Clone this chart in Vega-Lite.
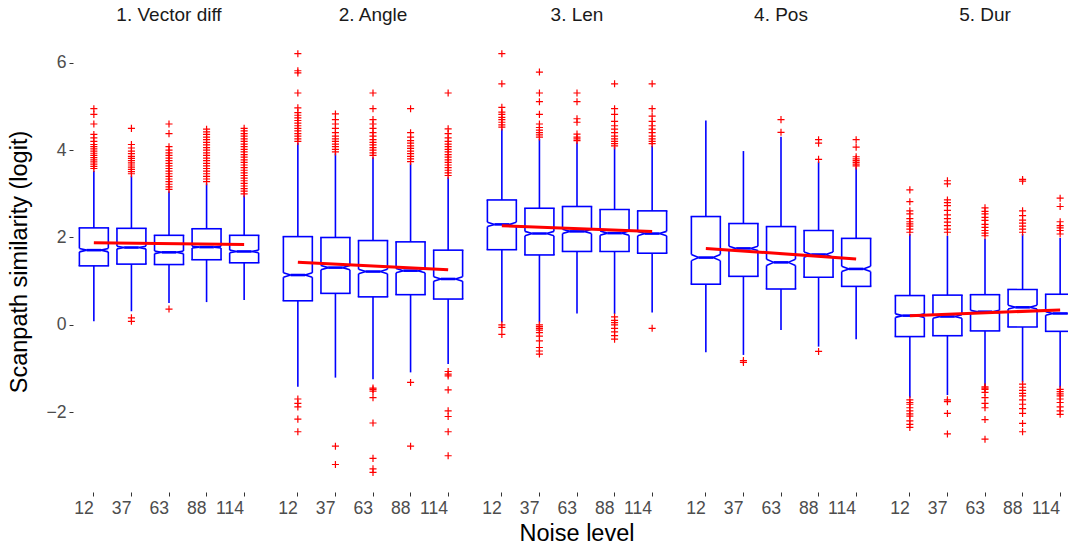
{
  "$schema": "https://vega.github.io/schema/vega-lite/v6.json",
  "padding": {"left": 7, "top": 6, "right": 0, "bottom": 0},
  "background": "white",
  "data": {"values": [
    {"panel":"1. Vector diff","noise":12,"kind":"box","q1":1.35,"med":1.71,"q3":2.22,"nlo":1.67,"nhi":1.75,"wlo":0.08,"whi":3.53},
    {"panel":"1. Vector diff","noise":37,"kind":"box","q1":1.39,"med":1.77,"q3":2.21,"nlo":1.74,"nhi":1.80,"wlo":0.31,"whi":3.42},
    {"panel":"1. Vector diff","noise":63,"kind":"box","q1":1.38,"med":1.66,"q3":2.05,"nlo":1.63,"nhi":1.69,"wlo":0.50,"whi":3.06},
    {"panel":"1. Vector diff","noise":88,"kind":"box","q1":1.49,"med":1.78,"q3":2.20,"nlo":1.76,"nhi":1.80,"wlo":0.52,"whi":3.24},
    {"panel":"1. Vector diff","noise":114,"kind":"box","q1":1.42,"med":1.68,"q3":2.05,"nlo":1.65,"nhi":1.71,"wlo":0.57,"whi":2.97},
    {"panel":"2. Angle","noise":12,"kind":"box","q1":0.55,"med":1.14,"q3":2.02,"nlo":1.09,"nhi":1.19,"wlo":-1.42,"whi":4.17},
    {"panel":"2. Angle","noise":37,"kind":"box","q1":0.72,"med":1.31,"q3":2.00,"nlo":1.26,"nhi":1.36,"wlo":-1.21,"whi":3.93},
    {"panel":"2. Angle","noise":63,"kind":"box","q1":0.64,"med":1.22,"q3":1.93,"nlo":1.17,"nhi":1.27,"wlo":-1.25,"whi":3.84},
    {"panel":"2. Angle","noise":88,"kind":"box","q1":0.69,"med":1.24,"q3":1.90,"nlo":1.19,"nhi":1.29,"wlo":-1.09,"whi":3.70},
    {"panel":"2. Angle","noise":114,"kind":"box","q1":0.59,"med":1.05,"q3":1.71,"nlo":1.00,"nhi":1.10,"wlo":-0.90,"whi":3.38},
    {"panel":"3. Len","noise":12,"kind":"box","q1":1.72,"med":2.30,"q3":2.86,"nlo":2.25,"nhi":2.35,"wlo":0.05,"whi":4.49},
    {"panel":"3. Len","noise":37,"kind":"box","q1":1.60,"med":2.09,"q3":2.67,"nlo":2.04,"nhi":2.14,"wlo":0.05,"whi":4.26},
    {"panel":"3. Len","noise":63,"kind":"box","q1":1.68,"med":2.14,"q3":2.71,"nlo":2.09,"nhi":2.19,"wlo":0.26,"whi":4.18},
    {"panel":"3. Len","noise":88,"kind":"box","q1":1.68,"med":2.10,"q3":2.64,"nlo":2.05,"nhi":2.15,"wlo":0.25,"whi":4.07},
    {"panel":"3. Len","noise":114,"kind":"box","q1":1.64,"med":2.09,"q3":2.61,"nlo":2.04,"nhi":2.14,"wlo":0.28,"whi":4.11},
    {"panel":"4. Pos","noise":12,"kind":"box","q1":0.93,"med":1.54,"q3":2.48,"nlo":1.47,"nhi":1.61,"wlo":-0.63,"whi":4.68},
    {"panel":"4. Pos","noise":37,"kind":"box","q1":1.11,"med":1.75,"q3":2.32,"nlo":1.70,"nhi":1.80,"wlo":-0.69,"whi":3.98},
    {"panel":"4. Pos","noise":63,"kind":"box","q1":0.82,"med":1.43,"q3":2.25,"nlo":1.36,"nhi":1.50,"wlo":-0.12,"whi":4.31},
    {"panel":"4. Pos","noise":88,"kind":"box","q1":1.09,"med":1.61,"q3":2.16,"nlo":1.55,"nhi":1.67,"wlo":-0.50,"whi":3.74},
    {"panel":"4. Pos","noise":114,"kind":"box","q1":0.88,"med":1.28,"q3":1.98,"nlo":1.22,"nhi":1.34,"wlo":-0.33,"whi":3.61},
    {"panel":"5. Dur","noise":12,"kind":"box","q1":-0.27,"med":0.21,"q3":0.67,"nlo":0.17,"nhi":0.25,"wlo":-1.67,"whi":2.08},
    {"panel":"5. Dur","noise":37,"kind":"box","q1":-0.25,"med":0.19,"q3":0.68,"nlo":0.15,"nhi":0.23,"wlo":-1.61,"whi":2.04},
    {"panel":"5. Dur","noise":63,"kind":"box","q1":-0.14,"med":0.30,"q3":0.69,"nlo":0.27,"nhi":0.33,"wlo":-1.40,"whi":1.97},
    {"panel":"5. Dur","noise":88,"kind":"box","q1":-0.05,"med":0.40,"q3":0.81,"nlo":0.36,"nhi":0.45,"wlo":-1.32,"whi":2.08},
    {"panel":"5. Dur","noise":114,"kind":"box","q1":-0.15,"med":0.26,"q3":0.70,"nlo":0.22,"nhi":0.30,"wlo":-1.44,"whi":1.99},

    {"panel":"1. Vector diff","noise":12,"kind":"fit","value":1.88},
    {"panel":"1. Vector diff","noise":114,"kind":"fit","value":1.84},
    {"panel":"2. Angle","noise":12,"kind":"fit","value":1.43},
    {"panel":"2. Angle","noise":114,"kind":"fit","value":1.26},
    {"panel":"3. Len","noise":12,"kind":"fit","value":2.27},
    {"panel":"3. Len","noise":114,"kind":"fit","value":2.14},
    {"panel":"4. Pos","noise":12,"kind":"fit","value":1.75},
    {"panel":"4. Pos","noise":114,"kind":"fit","value":1.51},
    {"panel":"5. Dur","noise":12,"kind":"fit","value":0.21},
    {"panel":"5. Dur","noise":114,"kind":"fit","value":0.34},

    {"panel":"1. Vector diff","noise":12,"kind":"out","value":3.58},
    {"panel":"1. Vector diff","noise":12,"kind":"out","value":3.63},
    {"panel":"1. Vector diff","noise":12,"kind":"out","value":3.68},
    {"panel":"1. Vector diff","noise":12,"kind":"out","value":3.73},
    {"panel":"1. Vector diff","noise":12,"kind":"out","value":3.78},
    {"panel":"1. Vector diff","noise":12,"kind":"out","value":3.83},
    {"panel":"1. Vector diff","noise":12,"kind":"out","value":3.88},
    {"panel":"1. Vector diff","noise":12,"kind":"out","value":3.93},
    {"panel":"1. Vector diff","noise":12,"kind":"out","value":3.98},
    {"panel":"1. Vector diff","noise":12,"kind":"out","value":4.03},
    {"panel":"1. Vector diff","noise":12,"kind":"out","value":4.08},
    {"panel":"1. Vector diff","noise":12,"kind":"out","value":4.13},
    {"panel":"1. Vector diff","noise":12,"kind":"out","value":4.20},
    {"panel":"1. Vector diff","noise":12,"kind":"out","value":4.28},
    {"panel":"1. Vector diff","noise":12,"kind":"out","value":4.36},
    {"panel":"1. Vector diff","noise":12,"kind":"out","value":4.60},
    {"panel":"1. Vector diff","noise":12,"kind":"out","value":4.82},
    {"panel":"1. Vector diff","noise":12,"kind":"out","value":4.95},
    {"panel":"1. Vector diff","noise":37,"kind":"out","value":0.16},
    {"panel":"1. Vector diff","noise":37,"kind":"out","value":0.08},
    {"panel":"1. Vector diff","noise":37,"kind":"out","value":3.46},
    {"panel":"1. Vector diff","noise":37,"kind":"out","value":3.51},
    {"panel":"1. Vector diff","noise":37,"kind":"out","value":3.56},
    {"panel":"1. Vector diff","noise":37,"kind":"out","value":3.61},
    {"panel":"1. Vector diff","noise":37,"kind":"out","value":3.66},
    {"panel":"1. Vector diff","noise":37,"kind":"out","value":3.71},
    {"panel":"1. Vector diff","noise":37,"kind":"out","value":3.76},
    {"panel":"1. Vector diff","noise":37,"kind":"out","value":3.81},
    {"panel":"1. Vector diff","noise":37,"kind":"out","value":3.86},
    {"panel":"1. Vector diff","noise":37,"kind":"out","value":3.92},
    {"panel":"1. Vector diff","noise":37,"kind":"out","value":3.98},
    {"panel":"1. Vector diff","noise":37,"kind":"out","value":4.05},
    {"panel":"1. Vector diff","noise":37,"kind":"out","value":4.13},
    {"panel":"1. Vector diff","noise":37,"kind":"out","value":4.50},
    {"panel":"1. Vector diff","noise":63,"kind":"out","value":0.36},
    {"panel":"1. Vector diff","noise":63,"kind":"out","value":3.10},
    {"panel":"1. Vector diff","noise":63,"kind":"out","value":3.16},
    {"panel":"1. Vector diff","noise":63,"kind":"out","value":3.22},
    {"panel":"1. Vector diff","noise":63,"kind":"out","value":3.28},
    {"panel":"1. Vector diff","noise":63,"kind":"out","value":3.34},
    {"panel":"1. Vector diff","noise":63,"kind":"out","value":3.40},
    {"panel":"1. Vector diff","noise":63,"kind":"out","value":3.46},
    {"panel":"1. Vector diff","noise":63,"kind":"out","value":3.52},
    {"panel":"1. Vector diff","noise":63,"kind":"out","value":3.58},
    {"panel":"1. Vector diff","noise":63,"kind":"out","value":3.64},
    {"panel":"1. Vector diff","noise":63,"kind":"out","value":3.70},
    {"panel":"1. Vector diff","noise":63,"kind":"out","value":3.76},
    {"panel":"1. Vector diff","noise":63,"kind":"out","value":3.82},
    {"panel":"1. Vector diff","noise":63,"kind":"out","value":3.88},
    {"panel":"1. Vector diff","noise":63,"kind":"out","value":3.94},
    {"panel":"1. Vector diff","noise":63,"kind":"out","value":4.00},
    {"panel":"1. Vector diff","noise":63,"kind":"out","value":4.08},
    {"panel":"1. Vector diff","noise":63,"kind":"out","value":4.38},
    {"panel":"1. Vector diff","noise":63,"kind":"out","value":4.60},
    {"panel":"1. Vector diff","noise":88,"kind":"out","value":3.28},
    {"panel":"1. Vector diff","noise":88,"kind":"out","value":3.34},
    {"panel":"1. Vector diff","noise":88,"kind":"out","value":3.40},
    {"panel":"1. Vector diff","noise":88,"kind":"out","value":3.46},
    {"panel":"1. Vector diff","noise":88,"kind":"out","value":3.52},
    {"panel":"1. Vector diff","noise":88,"kind":"out","value":3.58},
    {"panel":"1. Vector diff","noise":88,"kind":"out","value":3.64},
    {"panel":"1. Vector diff","noise":88,"kind":"out","value":3.70},
    {"panel":"1. Vector diff","noise":88,"kind":"out","value":3.76},
    {"panel":"1. Vector diff","noise":88,"kind":"out","value":3.82},
    {"panel":"1. Vector diff","noise":88,"kind":"out","value":3.88},
    {"panel":"1. Vector diff","noise":88,"kind":"out","value":3.94},
    {"panel":"1. Vector diff","noise":88,"kind":"out","value":4.00},
    {"panel":"1. Vector diff","noise":88,"kind":"out","value":4.06},
    {"panel":"1. Vector diff","noise":88,"kind":"out","value":4.12},
    {"panel":"1. Vector diff","noise":88,"kind":"out","value":4.18},
    {"panel":"1. Vector diff","noise":88,"kind":"out","value":4.24},
    {"panel":"1. Vector diff","noise":88,"kind":"out","value":4.30},
    {"panel":"1. Vector diff","noise":88,"kind":"out","value":4.36},
    {"panel":"1. Vector diff","noise":88,"kind":"out","value":4.42},
    {"panel":"1. Vector diff","noise":88,"kind":"out","value":4.48},
    {"panel":"1. Vector diff","noise":114,"kind":"out","value":3.00},
    {"panel":"1. Vector diff","noise":114,"kind":"out","value":3.06},
    {"panel":"1. Vector diff","noise":114,"kind":"out","value":3.12},
    {"panel":"1. Vector diff","noise":114,"kind":"out","value":3.18},
    {"panel":"1. Vector diff","noise":114,"kind":"out","value":3.24},
    {"panel":"1. Vector diff","noise":114,"kind":"out","value":3.30},
    {"panel":"1. Vector diff","noise":114,"kind":"out","value":3.36},
    {"panel":"1. Vector diff","noise":114,"kind":"out","value":3.42},
    {"panel":"1. Vector diff","noise":114,"kind":"out","value":3.48},
    {"panel":"1. Vector diff","noise":114,"kind":"out","value":3.54},
    {"panel":"1. Vector diff","noise":114,"kind":"out","value":3.60},
    {"panel":"1. Vector diff","noise":114,"kind":"out","value":3.66},
    {"panel":"1. Vector diff","noise":114,"kind":"out","value":3.72},
    {"panel":"1. Vector diff","noise":114,"kind":"out","value":3.78},
    {"panel":"1. Vector diff","noise":114,"kind":"out","value":3.84},
    {"panel":"1. Vector diff","noise":114,"kind":"out","value":3.90},
    {"panel":"1. Vector diff","noise":114,"kind":"out","value":3.96},
    {"panel":"1. Vector diff","noise":114,"kind":"out","value":4.02},
    {"panel":"1. Vector diff","noise":114,"kind":"out","value":4.08},
    {"panel":"1. Vector diff","noise":114,"kind":"out","value":4.14},
    {"panel":"1. Vector diff","noise":114,"kind":"out","value":4.20},
    {"panel":"1. Vector diff","noise":114,"kind":"out","value":4.26},
    {"panel":"1. Vector diff","noise":114,"kind":"out","value":4.32},
    {"panel":"1. Vector diff","noise":114,"kind":"out","value":4.38},
    {"panel":"1. Vector diff","noise":114,"kind":"out","value":4.44},
    {"panel":"1. Vector diff","noise":114,"kind":"out","value":4.50},

    {"panel":"2. Angle","noise":12,"kind":"out","value":4.20},
    {"panel":"2. Angle","noise":12,"kind":"out","value":4.26},
    {"panel":"2. Angle","noise":12,"kind":"out","value":4.32},
    {"panel":"2. Angle","noise":12,"kind":"out","value":4.38},
    {"panel":"2. Angle","noise":12,"kind":"out","value":4.44},
    {"panel":"2. Angle","noise":12,"kind":"out","value":4.50},
    {"panel":"2. Angle","noise":12,"kind":"out","value":4.56},
    {"panel":"2. Angle","noise":12,"kind":"out","value":4.62},
    {"panel":"2. Angle","noise":12,"kind":"out","value":4.68},
    {"panel":"2. Angle","noise":12,"kind":"out","value":4.74},
    {"panel":"2. Angle","noise":12,"kind":"out","value":4.80},
    {"panel":"2. Angle","noise":12,"kind":"out","value":4.86},
    {"panel":"2. Angle","noise":12,"kind":"out","value":4.97},
    {"panel":"2. Angle","noise":12,"kind":"out","value":5.31},
    {"panel":"2. Angle","noise":12,"kind":"out","value":5.77},
    {"panel":"2. Angle","noise":12,"kind":"out","value":5.82},
    {"panel":"2. Angle","noise":12,"kind":"out","value":6.21},
    {"panel":"2. Angle","noise":12,"kind":"out","value":-1.70},
    {"panel":"2. Angle","noise":12,"kind":"out","value":-1.80},
    {"panel":"2. Angle","noise":12,"kind":"out","value":-1.88},
    {"panel":"2. Angle","noise":12,"kind":"out","value":-2.16},
    {"panel":"2. Angle","noise":12,"kind":"out","value":-2.45},
    {"panel":"2. Angle","noise":37,"kind":"out","value":3.96},
    {"panel":"2. Angle","noise":37,"kind":"out","value":4.02},
    {"panel":"2. Angle","noise":37,"kind":"out","value":4.08},
    {"panel":"2. Angle","noise":37,"kind":"out","value":4.14},
    {"panel":"2. Angle","noise":37,"kind":"out","value":4.20},
    {"panel":"2. Angle","noise":37,"kind":"out","value":4.26},
    {"panel":"2. Angle","noise":37,"kind":"out","value":4.32},
    {"panel":"2. Angle","noise":37,"kind":"out","value":4.40},
    {"panel":"2. Angle","noise":37,"kind":"out","value":4.50},
    {"panel":"2. Angle","noise":37,"kind":"out","value":4.60},
    {"panel":"2. Angle","noise":37,"kind":"out","value":4.70},
    {"panel":"2. Angle","noise":37,"kind":"out","value":4.83},
    {"panel":"2. Angle","noise":37,"kind":"out","value":-2.78},
    {"panel":"2. Angle","noise":37,"kind":"out","value":-3.20},
    {"panel":"2. Angle","noise":63,"kind":"out","value":3.88},
    {"panel":"2. Angle","noise":63,"kind":"out","value":3.94},
    {"panel":"2. Angle","noise":63,"kind":"out","value":4.00},
    {"panel":"2. Angle","noise":63,"kind":"out","value":4.06},
    {"panel":"2. Angle","noise":63,"kind":"out","value":4.12},
    {"panel":"2. Angle","noise":63,"kind":"out","value":4.18},
    {"panel":"2. Angle","noise":63,"kind":"out","value":4.24},
    {"panel":"2. Angle","noise":63,"kind":"out","value":4.32},
    {"panel":"2. Angle","noise":63,"kind":"out","value":4.40},
    {"panel":"2. Angle","noise":63,"kind":"out","value":4.50},
    {"panel":"2. Angle","noise":63,"kind":"out","value":4.60},
    {"panel":"2. Angle","noise":63,"kind":"out","value":4.70},
    {"panel":"2. Angle","noise":63,"kind":"out","value":4.95},
    {"panel":"2. Angle","noise":63,"kind":"out","value":5.31},
    {"panel":"2. Angle","noise":63,"kind":"out","value":-1.45},
    {"panel":"2. Angle","noise":63,"kind":"out","value":-1.48},
    {"panel":"2. Angle","noise":63,"kind":"out","value":-1.52},
    {"panel":"2. Angle","noise":63,"kind":"out","value":-1.67},
    {"panel":"2. Angle","noise":63,"kind":"out","value":-2.25},
    {"panel":"2. Angle","noise":63,"kind":"out","value":-3.06},
    {"panel":"2. Angle","noise":63,"kind":"out","value":-3.30},
    {"panel":"2. Angle","noise":63,"kind":"out","value":-3.38},
    {"panel":"2. Angle","noise":88,"kind":"out","value":3.74},
    {"panel":"2. Angle","noise":88,"kind":"out","value":3.80},
    {"panel":"2. Angle","noise":88,"kind":"out","value":3.86},
    {"panel":"2. Angle","noise":88,"kind":"out","value":3.92},
    {"panel":"2. Angle","noise":88,"kind":"out","value":3.98},
    {"panel":"2. Angle","noise":88,"kind":"out","value":4.04},
    {"panel":"2. Angle","noise":88,"kind":"out","value":4.10},
    {"panel":"2. Angle","noise":88,"kind":"out","value":4.16},
    {"panel":"2. Angle","noise":88,"kind":"out","value":4.22},
    {"panel":"2. Angle","noise":88,"kind":"out","value":4.30},
    {"panel":"2. Angle","noise":88,"kind":"out","value":4.40},
    {"panel":"2. Angle","noise":88,"kind":"out","value":4.95},
    {"panel":"2. Angle","noise":88,"kind":"out","value":-1.32},
    {"panel":"2. Angle","noise":88,"kind":"out","value":-2.78},
    {"panel":"2. Angle","noise":114,"kind":"out","value":3.42},
    {"panel":"2. Angle","noise":114,"kind":"out","value":3.48},
    {"panel":"2. Angle","noise":114,"kind":"out","value":3.54},
    {"panel":"2. Angle","noise":114,"kind":"out","value":3.60},
    {"panel":"2. Angle","noise":114,"kind":"out","value":3.66},
    {"panel":"2. Angle","noise":114,"kind":"out","value":3.72},
    {"panel":"2. Angle","noise":114,"kind":"out","value":3.78},
    {"panel":"2. Angle","noise":114,"kind":"out","value":3.84},
    {"panel":"2. Angle","noise":114,"kind":"out","value":3.90},
    {"panel":"2. Angle","noise":114,"kind":"out","value":3.96},
    {"panel":"2. Angle","noise":114,"kind":"out","value":4.02},
    {"panel":"2. Angle","noise":114,"kind":"out","value":4.08},
    {"panel":"2. Angle","noise":114,"kind":"out","value":4.14},
    {"panel":"2. Angle","noise":114,"kind":"out","value":4.20},
    {"panel":"2. Angle","noise":114,"kind":"out","value":4.28},
    {"panel":"2. Angle","noise":114,"kind":"out","value":4.38},
    {"panel":"2. Angle","noise":114,"kind":"out","value":4.49},
    {"panel":"2. Angle","noise":114,"kind":"out","value":5.31},
    {"panel":"2. Angle","noise":114,"kind":"out","value":-1.07},
    {"panel":"2. Angle","noise":114,"kind":"out","value":-1.13},
    {"panel":"2. Angle","noise":114,"kind":"out","value":-1.17},
    {"panel":"2. Angle","noise":114,"kind":"out","value":-1.49},
    {"panel":"2. Angle","noise":114,"kind":"out","value":-1.97},
    {"panel":"2. Angle","noise":114,"kind":"out","value":-2.10},
    {"panel":"2. Angle","noise":114,"kind":"out","value":-2.45},
    {"panel":"2. Angle","noise":114,"kind":"out","value":-3.00},

    {"panel":"3. Len","noise":12,"kind":"out","value":4.53},
    {"panel":"3. Len","noise":12,"kind":"out","value":4.58},
    {"panel":"3. Len","noise":12,"kind":"out","value":4.64},
    {"panel":"3. Len","noise":12,"kind":"out","value":4.70},
    {"panel":"3. Len","noise":12,"kind":"out","value":4.75},
    {"panel":"3. Len","noise":12,"kind":"out","value":4.82},
    {"panel":"3. Len","noise":12,"kind":"out","value":4.87},
    {"panel":"3. Len","noise":12,"kind":"out","value":4.98},
    {"panel":"3. Len","noise":12,"kind":"out","value":5.52},
    {"panel":"3. Len","noise":12,"kind":"out","value":6.21},
    {"panel":"3. Len","noise":12,"kind":"out","value":0.00},
    {"panel":"3. Len","noise":12,"kind":"out","value":-0.06},
    {"panel":"3. Len","noise":12,"kind":"out","value":-0.22},
    {"panel":"3. Len","noise":37,"kind":"out","value":4.30},
    {"panel":"3. Len","noise":37,"kind":"out","value":4.35},
    {"panel":"3. Len","noise":37,"kind":"out","value":4.40},
    {"panel":"3. Len","noise":37,"kind":"out","value":4.46},
    {"panel":"3. Len","noise":37,"kind":"out","value":4.52},
    {"panel":"3. Len","noise":37,"kind":"out","value":4.60},
    {"panel":"3. Len","noise":37,"kind":"out","value":4.82},
    {"panel":"3. Len","noise":37,"kind":"out","value":5.11},
    {"panel":"3. Len","noise":37,"kind":"out","value":5.31},
    {"panel":"3. Len","noise":37,"kind":"out","value":5.79},
    {"panel":"3. Len","noise":37,"kind":"out","value":0.00},
    {"panel":"3. Len","noise":37,"kind":"out","value":-0.04},
    {"panel":"3. Len","noise":37,"kind":"out","value":-0.08},
    {"panel":"3. Len","noise":37,"kind":"out","value":-0.12},
    {"panel":"3. Len","noise":37,"kind":"out","value":-0.18},
    {"panel":"3. Len","noise":37,"kind":"out","value":-0.26},
    {"panel":"3. Len","noise":37,"kind":"out","value":-0.37},
    {"panel":"3. Len","noise":37,"kind":"out","value":-0.52},
    {"panel":"3. Len","noise":37,"kind":"out","value":-0.60},
    {"panel":"3. Len","noise":37,"kind":"out","value":-0.67},
    {"panel":"3. Len","noise":63,"kind":"out","value":4.22},
    {"panel":"3. Len","noise":63,"kind":"out","value":4.26},
    {"panel":"3. Len","noise":63,"kind":"out","value":4.30},
    {"panel":"3. Len","noise":63,"kind":"out","value":4.37},
    {"panel":"3. Len","noise":63,"kind":"out","value":4.64},
    {"panel":"3. Len","noise":63,"kind":"out","value":4.72},
    {"panel":"3. Len","noise":63,"kind":"out","value":5.11},
    {"panel":"3. Len","noise":63,"kind":"out","value":5.31},
    {"panel":"3. Len","noise":88,"kind":"out","value":4.10},
    {"panel":"3. Len","noise":88,"kind":"out","value":4.15},
    {"panel":"3. Len","noise":88,"kind":"out","value":4.20},
    {"panel":"3. Len","noise":88,"kind":"out","value":4.26},
    {"panel":"3. Len","noise":88,"kind":"out","value":4.32},
    {"panel":"3. Len","noise":88,"kind":"out","value":4.40},
    {"panel":"3. Len","noise":88,"kind":"out","value":4.48},
    {"panel":"3. Len","noise":88,"kind":"out","value":4.56},
    {"panel":"3. Len","noise":88,"kind":"out","value":4.66},
    {"panel":"3. Len","noise":88,"kind":"out","value":4.82},
    {"panel":"3. Len","noise":88,"kind":"out","value":4.95},
    {"panel":"3. Len","noise":88,"kind":"out","value":5.52},
    {"panel":"3. Len","noise":88,"kind":"out","value":0.18},
    {"panel":"3. Len","noise":88,"kind":"out","value":0.10},
    {"panel":"3. Len","noise":88,"kind":"out","value":0.05},
    {"panel":"3. Len","noise":88,"kind":"out","value":0.00},
    {"panel":"3. Len","noise":88,"kind":"out","value":-0.08},
    {"panel":"3. Len","noise":88,"kind":"out","value":-0.16},
    {"panel":"3. Len","noise":88,"kind":"out","value":-0.25},
    {"panel":"3. Len","noise":88,"kind":"out","value":-0.33},
    {"panel":"3. Len","noise":114,"kind":"out","value":4.15},
    {"panel":"3. Len","noise":114,"kind":"out","value":4.20},
    {"panel":"3. Len","noise":114,"kind":"out","value":4.26},
    {"panel":"3. Len","noise":114,"kind":"out","value":4.32},
    {"panel":"3. Len","noise":114,"kind":"out","value":4.40},
    {"panel":"3. Len","noise":114,"kind":"out","value":4.48},
    {"panel":"3. Len","noise":114,"kind":"out","value":4.56},
    {"panel":"3. Len","noise":114,"kind":"out","value":4.66},
    {"panel":"3. Len","noise":114,"kind":"out","value":4.78},
    {"panel":"3. Len","noise":114,"kind":"out","value":4.95},
    {"panel":"3. Len","noise":114,"kind":"out","value":5.52},
    {"panel":"3. Len","noise":114,"kind":"out","value":-0.08},

    {"panel":"4. Pos","noise":37,"kind":"out","value":-0.82},
    {"panel":"4. Pos","noise":37,"kind":"out","value":-0.86},
    {"panel":"4. Pos","noise":63,"kind":"out","value":4.41},
    {"panel":"4. Pos","noise":63,"kind":"out","value":4.70},
    {"panel":"4. Pos","noise":88,"kind":"out","value":3.79},
    {"panel":"4. Pos","noise":88,"kind":"out","value":4.16},
    {"panel":"4. Pos","noise":88,"kind":"out","value":4.24},
    {"panel":"4. Pos","noise":88,"kind":"out","value":-0.61},
    {"panel":"4. Pos","noise":114,"kind":"out","value":3.64},
    {"panel":"4. Pos","noise":114,"kind":"out","value":3.68},
    {"panel":"4. Pos","noise":114,"kind":"out","value":3.72},
    {"panel":"4. Pos","noise":114,"kind":"out","value":3.76},
    {"panel":"4. Pos","noise":114,"kind":"out","value":3.80},
    {"panel":"4. Pos","noise":114,"kind":"out","value":3.85},
    {"panel":"4. Pos","noise":114,"kind":"out","value":4.07},
    {"panel":"4. Pos","noise":114,"kind":"out","value":4.24},

    {"panel":"5. Dur","noise":12,"kind":"out","value":2.12},
    {"panel":"5. Dur","noise":12,"kind":"out","value":2.19},
    {"panel":"5. Dur","noise":12,"kind":"out","value":2.26},
    {"panel":"5. Dur","noise":12,"kind":"out","value":2.31},
    {"panel":"5. Dur","noise":12,"kind":"out","value":2.36},
    {"panel":"5. Dur","noise":12,"kind":"out","value":2.43},
    {"panel":"5. Dur","noise":12,"kind":"out","value":2.54},
    {"panel":"5. Dur","noise":12,"kind":"out","value":2.61},
    {"panel":"5. Dur","noise":12,"kind":"out","value":2.82},
    {"panel":"5. Dur","noise":12,"kind":"out","value":3.09},
    {"panel":"5. Dur","noise":12,"kind":"out","value":-1.72},
    {"panel":"5. Dur","noise":12,"kind":"out","value":-1.78},
    {"panel":"5. Dur","noise":12,"kind":"out","value":-1.82},
    {"panel":"5. Dur","noise":12,"kind":"out","value":-1.90},
    {"panel":"5. Dur","noise":12,"kind":"out","value":-1.97},
    {"panel":"5. Dur","noise":12,"kind":"out","value":-2.04},
    {"panel":"5. Dur","noise":12,"kind":"out","value":-2.09},
    {"panel":"5. Dur","noise":12,"kind":"out","value":-2.20},
    {"panel":"5. Dur","noise":12,"kind":"out","value":-2.28},
    {"panel":"5. Dur","noise":12,"kind":"out","value":-2.35},
    {"panel":"5. Dur","noise":37,"kind":"out","value":2.12},
    {"panel":"5. Dur","noise":37,"kind":"out","value":2.19},
    {"panel":"5. Dur","noise":37,"kind":"out","value":2.27},
    {"panel":"5. Dur","noise":37,"kind":"out","value":2.35},
    {"panel":"5. Dur","noise":37,"kind":"out","value":2.43},
    {"panel":"5. Dur","noise":37,"kind":"out","value":2.52},
    {"panel":"5. Dur","noise":37,"kind":"out","value":2.62},
    {"panel":"5. Dur","noise":37,"kind":"out","value":2.73},
    {"panel":"5. Dur","noise":37,"kind":"out","value":2.80},
    {"panel":"5. Dur","noise":37,"kind":"out","value":2.86},
    {"panel":"5. Dur","noise":37,"kind":"out","value":3.23},
    {"panel":"5. Dur","noise":37,"kind":"out","value":3.30},
    {"panel":"5. Dur","noise":37,"kind":"out","value":-1.72},
    {"panel":"5. Dur","noise":37,"kind":"out","value":-1.76},
    {"panel":"5. Dur","noise":37,"kind":"out","value":-2.03},
    {"panel":"5. Dur","noise":37,"kind":"out","value":-2.50},
    {"panel":"5. Dur","noise":63,"kind":"out","value":2.04},
    {"panel":"5. Dur","noise":63,"kind":"out","value":2.10},
    {"panel":"5. Dur","noise":63,"kind":"out","value":2.16},
    {"panel":"5. Dur","noise":63,"kind":"out","value":2.23},
    {"panel":"5. Dur","noise":63,"kind":"out","value":2.30},
    {"panel":"5. Dur","noise":63,"kind":"out","value":2.39},
    {"panel":"5. Dur","noise":63,"kind":"out","value":2.46},
    {"panel":"5. Dur","noise":63,"kind":"out","value":2.54},
    {"panel":"5. Dur","noise":63,"kind":"out","value":2.60},
    {"panel":"5. Dur","noise":63,"kind":"out","value":2.68},
    {"panel":"5. Dur","noise":63,"kind":"out","value":-1.42},
    {"panel":"5. Dur","noise":63,"kind":"out","value":-1.45},
    {"panel":"5. Dur","noise":63,"kind":"out","value":-1.48},
    {"panel":"5. Dur","noise":63,"kind":"out","value":-1.55},
    {"panel":"5. Dur","noise":63,"kind":"out","value":-1.67},
    {"panel":"5. Dur","noise":63,"kind":"out","value":-1.80},
    {"panel":"5. Dur","noise":63,"kind":"out","value":-1.90},
    {"panel":"5. Dur","noise":63,"kind":"out","value":-2.17},
    {"panel":"5. Dur","noise":63,"kind":"out","value":-2.62},
    {"panel":"5. Dur","noise":88,"kind":"out","value":2.12},
    {"panel":"5. Dur","noise":88,"kind":"out","value":2.19},
    {"panel":"5. Dur","noise":88,"kind":"out","value":2.26},
    {"panel":"5. Dur","noise":88,"kind":"out","value":2.33},
    {"panel":"5. Dur","noise":88,"kind":"out","value":2.40},
    {"panel":"5. Dur","noise":88,"kind":"out","value":2.50},
    {"panel":"5. Dur","noise":88,"kind":"out","value":2.61},
    {"panel":"5. Dur","noise":88,"kind":"out","value":3.29},
    {"panel":"5. Dur","noise":88,"kind":"out","value":3.33},
    {"panel":"5. Dur","noise":88,"kind":"out","value":-1.36},
    {"panel":"5. Dur","noise":88,"kind":"out","value":-1.43},
    {"panel":"5. Dur","noise":88,"kind":"out","value":-1.50},
    {"panel":"5. Dur","noise":88,"kind":"out","value":-1.57},
    {"panel":"5. Dur","noise":88,"kind":"out","value":-1.63},
    {"panel":"5. Dur","noise":88,"kind":"out","value":-1.72},
    {"panel":"5. Dur","noise":88,"kind":"out","value":-1.82},
    {"panel":"5. Dur","noise":88,"kind":"out","value":-1.92},
    {"panel":"5. Dur","noise":88,"kind":"out","value":-2.03},
    {"panel":"5. Dur","noise":88,"kind":"out","value":-2.26},
    {"panel":"5. Dur","noise":88,"kind":"out","value":-2.45},
    {"panel":"5. Dur","noise":114,"kind":"out","value":2.08},
    {"panel":"5. Dur","noise":114,"kind":"out","value":2.16},
    {"panel":"5. Dur","noise":114,"kind":"out","value":2.22},
    {"panel":"5. Dur","noise":114,"kind":"out","value":2.27},
    {"panel":"5. Dur","noise":114,"kind":"out","value":2.36},
    {"panel":"5. Dur","noise":114,"kind":"out","value":2.71},
    {"panel":"5. Dur","noise":114,"kind":"out","value":2.90},
    {"panel":"5. Dur","noise":114,"kind":"out","value":-1.48},
    {"panel":"5. Dur","noise":114,"kind":"out","value":-1.53},
    {"panel":"5. Dur","noise":114,"kind":"out","value":-1.58},
    {"panel":"5. Dur","noise":114,"kind":"out","value":-1.63},
    {"panel":"5. Dur","noise":114,"kind":"out","value":-1.70},
    {"panel":"5. Dur","noise":114,"kind":"out","value":-1.78},
    {"panel":"5. Dur","noise":114,"kind":"out","value":-1.88},
    {"panel":"5. Dur","noise":114,"kind":"out","value":-1.97},
    {"panel":"5. Dur","noise":114,"kind":"out","value":-2.05}
  ]},
  "facet": {
    "column": {
      "field": "panel", "type": "nominal",
      "header": {
        "title": "Noise level", "titleOrient": "bottom", "labelOrient": "top",
        "labelFont": "Liberation Sans", "labelFontSize": 19, "labelColor": "#1a1a1a", "labelPadding": 6,
        "titleFont": "Liberation Sans", "titleFontSize": 23.5, "titleFontWeight": "normal", "titleColor": "#000000", "titlePadding": -5
      }
    }
  },
  "spacing": {"column": 12},
  "spec": {
    "width": 192,
    "height": 461,
    "encoding": {
      "x": {"field": "noise", "type": "ordinal", "title": null, "scale": {"paddingInner": 0.23, "paddingOuter": 0.17}},
      "y": {"type": "quantitative"}
    },
    "layer": [
      {
        "transform": [{"filter": {"field": "kind", "equal": "box"}}],
        "layer": [
          {"mark": {"type": "rule", "color": "#0000FF", "strokeWidth": 1.6}, "encoding": {"y": {"field": "q3", "type": "quantitative", "title": "Scanpath similarity (logit)", "scale": {"domain": [-3.83, 6.73], "nice": false, "zero": false}, "axis": {"values": [-2, 0, 2, 4, 6]}}, "y2": {"field": "whi"}}},
          {"mark": {"type": "rule", "color": "#0000FF", "strokeWidth": 1.6}, "encoding": {"y": {"field": "wlo", "type": "quantitative"}, "y2": {"field": "q1"}}},
          {"mark": {"type": "tick", "color": "#0000FF", "size": 30.5, "thickness": 1.6, "opacity": 1}, "encoding": {"y": {"field": "q3", "type": "quantitative"}}},
          {"mark": {"type": "tick", "color": "#0000FF", "size": 30.5, "thickness": 1.6, "opacity": 1}, "encoding": {"y": {"field": "q1", "type": "quantitative"}}},
          {"mark": {"type": "rule", "color": "#0000FF", "strokeWidth": 1.6, "xOffset": -14.47}, "encoding": {"y": {"field": "nhi", "type": "quantitative"}, "y2": {"field": "q3"}}},
          {"mark": {"type": "rule", "color": "#0000FF", "strokeWidth": 1.6, "xOffset": 14.47}, "encoding": {"y": {"field": "nhi", "type": "quantitative"}, "y2": {"field": "q3"}}},
          {"mark": {"type": "rule", "color": "#0000FF", "strokeWidth": 1.6, "xOffset": -14.47}, "encoding": {"y": {"field": "q1", "type": "quantitative"}, "y2": {"field": "nlo"}}},
          {"mark": {"type": "rule", "color": "#0000FF", "strokeWidth": 1.6, "xOffset": 14.47}, "encoding": {"y": {"field": "q1", "type": "quantitative"}, "y2": {"field": "nlo"}}},
          {"mark": {"type": "rule", "color": "#0000FF", "strokeWidth": 1.6, "xOffset": -14.47, "x2Offset": -7.2}, "encoding": {"x": {"field": "noise", "type": "ordinal", "bandPosition": 0.5}, "x2": {"field": "noise", "bandPosition": 0.5}, "y": {"field": "nhi", "type": "quantitative"}, "y2": {"field": "med"}}},
          {"mark": {"type": "rule", "color": "#0000FF", "strokeWidth": 1.6, "xOffset": -14.47, "x2Offset": -7.2}, "encoding": {"x": {"field": "noise", "type": "ordinal", "bandPosition": 0.5}, "x2": {"field": "noise", "bandPosition": 0.5}, "y": {"field": "nlo", "type": "quantitative"}, "y2": {"field": "med"}}},
          {"mark": {"type": "rule", "color": "#0000FF", "strokeWidth": 1.6, "xOffset": 14.47, "x2Offset": 7.2}, "encoding": {"x": {"field": "noise", "type": "ordinal", "bandPosition": 0.5}, "x2": {"field": "noise", "bandPosition": 0.5}, "y": {"field": "nhi", "type": "quantitative"}, "y2": {"field": "med"}}},
          {"mark": {"type": "rule", "color": "#0000FF", "strokeWidth": 1.6, "xOffset": 14.47, "x2Offset": 7.2}, "encoding": {"x": {"field": "noise", "type": "ordinal", "bandPosition": 0.5}, "x2": {"field": "noise", "bandPosition": 0.5}, "y": {"field": "nlo", "type": "quantitative"}, "y2": {"field": "med"}}},
          {"mark": {"type": "tick", "color": "#0000FF", "size": 14.6, "thickness": 2.6, "opacity": 1}, "encoding": {"y": {"field": "med", "type": "quantitative"}}}
        ]
      },
      {
        "transform": [{"filter": {"field": "kind", "equal": "out"}}],
        "mark": {"type": "point", "shape": "M-1,0H1M0,-1V1", "filled": false, "stroke": "#FF0000", "strokeWidth": 1.2, "size": 50, "opacity": 1},
        "encoding": {"y": {"field": "value", "type": "quantitative"}}
      },
      {
        "transform": [{"filter": {"field": "kind", "equal": "fit"}}],
        "mark": {"type": "line", "color": "#FF0000", "strokeWidth": 3},
        "encoding": {"y": {"field": "value", "type": "quantitative"}}
      }
    ]
  },
  "config": {
    "font": "Liberation Sans",
    "view": {"stroke": null},
    "axis": {
      "grid": false, "domain": false,
      "labelFont": "Liberation Sans", "labelColor": "#4d4d4d", "labelFontSize": 17.6,
      "tickColor": "#333333", "tickSize": 4, "tickWidth": 1,
      "titleFont": "Liberation Sans", "titleFontWeight": "normal", "titleColor": "#000000", "titleFontSize": 23.5
    },
    "axisX": {"labelAngle": 0, "labelAlign": "right", "labelBaseline": "top", "labelPadding": 3},
    "axisY": {"labelPadding": 3, "titlePadding": 14}
  }
}
